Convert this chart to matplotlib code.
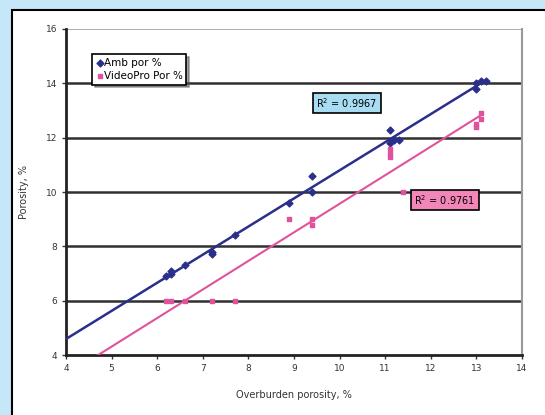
import numpy as np
import matplotlib.pyplot as plt
from matplotlib.patches import Rectangle

# Data
amb_x = [6.2, 6.3, 6.3, 6.6, 7.2, 7.2, 7.7, 8.9, 9.4, 9.4, 11.1, 11.1, 11.2, 11.3, 13.0, 13.0, 13.1, 13.2]
amb_y = [6.9, 7.1, 7.0, 7.3, 7.7, 7.8, 8.4, 9.6, 10.6, 10.0, 12.3, 11.8, 11.9, 11.9, 13.8, 14.0, 14.1, 14.1]
vp_x = [6.2, 6.3, 6.6, 7.2, 7.7, 8.9, 9.4, 9.4, 11.1, 11.1, 11.1, 11.4, 13.0, 13.0, 13.1, 13.1]
vp_y = [6.0, 6.0, 6.0, 6.0, 6.0, 9.0, 9.0, 8.8, 11.6, 11.4, 11.3, 10.0, 12.4, 12.5, 12.7, 12.9]
r2_amb = 0.9967
r2_vp = 0.9761
xticks = list(range(4, 15))
yticks = list(range(4, 17, 2))

blue = '#2b2f8c'
pink = '#e0529c'

fig = plt.figure(figsize=(5.45, 4.15), dpi=100)
fig.patch.set_facecolor('#c6e7f7')
# white panel with black frame
fig.patches.append(Rectangle((12 / 545, -0.05), 1.0, 1.04 - 6 / 415, transform=fig.transFigure,
                             facecolor='white', edgecolor='black', linewidth=1.5, zorder=-10))

ax = fig.add_axes([66 / 545, 1 - 355 / 415, (522 - 66) / 545, (355 - 29) / 415])
ax.set_facecolor('white')

# trendlines (linear fit of each series)
ca = np.polyfit(amb_x, amb_y, 1)
cv = np.polyfit(vp_x, vp_y, 1)
xa = np.array([4, max(amb_x)])
xv = np.array([4, max(vp_x)])
ax.plot(xa, np.polyval(ca, xa), color=blue, lw=1.8, zorder=3)
ax.plot(xv, np.polyval(cv, xv), color=pink, lw=1.5, zorder=3)

ax.scatter(amb_x, amb_y, marker='D', s=12, color=blue, zorder=4, label='Amb por %')
ax.scatter(vp_x, vp_y, marker='s', s=12, color=pink, zorder=4, label='VideoPro Por %')

ax.set_xlim(4, 14)
ax.set_ylim(4, 16)
ax.set_xticks(xticks)
ax.set_yticks(yticks)
for y in yticks[1:-1]:
    ax.axhline(y, color='#303030', lw=1.8, zorder=1)
ax.axhline(16, color='#a0a0a0', lw=1.2, zorder=1)

ax.tick_params(labelsize=6.5, colors='#333333', length=3, width=1)
for s in ['left', 'bottom']:
    ax.spines[s].set_linewidth(2)
    ax.spines[s].set_color('#222222')
ax.spines['right'].set_color('#999999')
ax.spines['right'].set_linewidth(1.5)
ax.spines['top'].set_visible(False)

ax.set_xlabel('Overburden porosity, %', fontsize=7, color='#333333', labelpad=12)
ax.set_ylabel('Porosity, %', fontsize=7, color='#333333', labelpad=12)

leg = ax.legend(loc='upper left', bbox_to_anchor=(0.057, 0.923), fontsize=7.5, frameon=True,
                fancybox=False, shadow=True, handletextpad=0.0, borderpad=0.35,
                labelspacing=0.3, handlelength=0.8, borderaxespad=0)
leg.get_frame().set_edgecolor('black')
leg.get_frame().set_linewidth(1.2)

ax.text(10.16, 13.28, 'R$^2$ = %.4f' % r2_amb, fontsize=7, ha='center', va='center', zorder=5,
        bbox=dict(boxstyle='square,pad=0.35', facecolor='#a8dcf2', edgecolor='black', lw=1.2))
ax.text(12.31, 9.71, 'R$^2$ = %.4f' % r2_vp, fontsize=7, ha='center', va='center', zorder=5,
        bbox=dict(boxstyle='square,pad=0.35', facecolor='#f286b8', edgecolor='black', lw=1.2))

fig.savefig('out.png', dpi=100, facecolor=fig.get_facecolor())
